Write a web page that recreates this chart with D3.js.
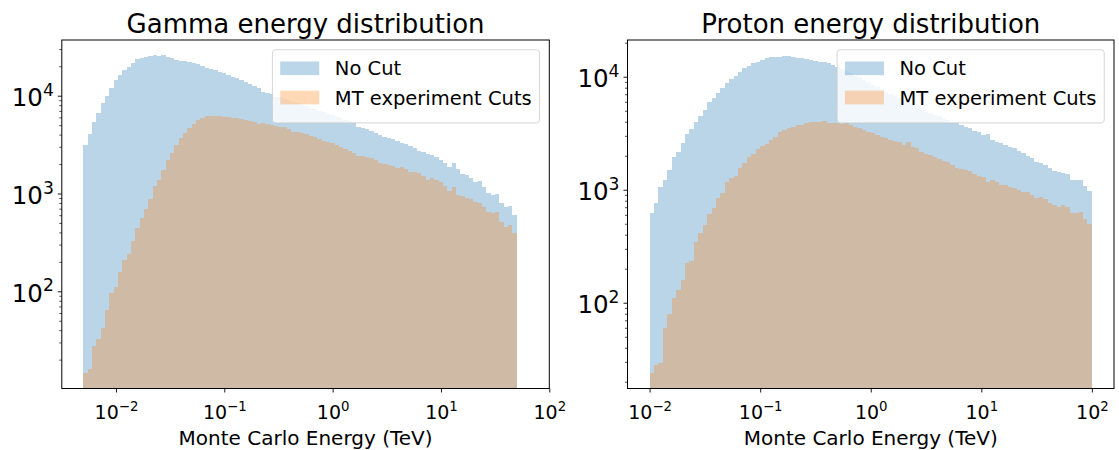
<!DOCTYPE html>
<html><head><meta charset="utf-8">
<script src="https://cdn.jsdelivr.net/npm/d3@7"></script>
<style>
body{margin:0;background:#fff;}
svg text{font-family:"DejaVu Sans",sans-serif;fill:#000;}
</style>
</head><body>
<svg id="chart" width="1119" height="450"></svg>
<script>
// ---------------- data ----------------
const panelTitles = ["Gamma energy distribution", "Proton energy distribution"];
const seriesNames = ["No Cut", "MT experiment Cuts"];
const xLabel = "Monte Carlo Energy (TeV)";
const xTickExps = [-2, -1, 0, 1, 2];
const yTickExps = [2, 3, 4];
// histogram bin-edge ranges (100 log-spaced bins each)
const gammaBinRange = [0.005, 50];
const protonBinRange = [0.01, 100];

const gammaNoCut = [3130,4030,5350,6600,8360,9930,11900,14500,16300,18300,
19800,21700,23700,24500,24900,25500,25900,25500,25900,25100,
24100,23200,22800,22600,21900,21400,20900,20300,19300,18600,
18300,17600,16900,16300,15600,15100,14500,13900,13100,12700,
11900,11000,10600,10300,9800,9600,9150,8950,8550,8350,
7950,7800,7400,7250,6900,6750,6450,6300,6000,5850,
5640,5510,5340,4820,4650,4570,4360,4130,3970,3810,
3660,3580,3470,3310,3180,3060,2940,2720,2640,2520,
2480,2380,2200,2040,1870,2040,1760,1600,1530,1450,
1300,1350,1170,1020,970,990,805,733,745,603];

const gammaCuts = [14.5,16,27.6,32.3,41.9,64.4,95.5,111,158,209,
239,327,447,557,695,879,1186,1375,1740,2200,
2580,3130,3720,4130,4650,5100,5600,5870,6160,6250,
6190,6150,6050,6010,5960,5870,5780,5690,5510,5420,
5170,5220,5100,5010,4900,4820,4750,4570,4290,4230,
4160,4030,3900,3810,3610,3470,3390,3310,3130,3010,
2830,2720,2580,2440,2420,2380,2290,2200,2040,1990,
1960,1930,1840,1870,1780,1670,1640,1610,1520,1370,
1430,1370,1320,1200,1060,1175,967,942,893,871,
824,805,733,652,627,652,515,458,476,397];

const protonNoCut = [618,769,1050,1220,1500,1960,2170,2610,3090,3440,
3950,4490,5070,5930,6510,7120,7880,8730,9470,10190,
11060,12000,12500,13100,13600,14100,14500,14800,15100,15100,
15200,15300,15000,14700,14500,14400,14100,13800,13600,13400,
13200,12700,12300,11800,11200,10800,10200,9850,9300,8950,
8500,8150,7800,7400,7100,6800,6450,6200,5900,5600,
5350,5100,4900,4740,4580,4520,4340,4140,3950,3870,
3740,3610,3490,3300,3220,3050,3090,2750,2660,2570,
2490,2400,2320,2200,2100,2000,1900,1770,1710,1670,
1545,1470,1440,1400,1380,1220,1220,1220,1080,980];

const protonCuts = [23.7,28.1,29.1,60.2,79.1,111,130,159,224,234,
343,411,488,607,685,841,931,1160,1260,1320,
1570,1740,1960,2090,2280,2440,2520,2750,2950,3220,
3370,3490,3610,3740,3740,3870,3950,3950,4000,4060,
3920,3870,3870,3790,3950,3740,3610,3490,3370,3260,
3150,3050,2950,2850,2750,2720,2660,2490,2630,2400,
2360,2170,2060,2030,1960,1870,1800,1750,1650,1570,
1530,1490,1450,1370,1330,1300,1180,1220,1160,1100,
1090,1060,1030,990,960,950,900,840,857,822,
767,732,708,732,698,618,625,638,547,498];

// ---------------- layout ----------------
const colors = ["#1f77b4", "#ff7f0e"];
const panels = [
  {title: panelTitles[0], series: [gammaNoCut, gammaCuts], binRange: gammaBinRange,
   left: 61.8, right: 549.3, xDom: [Math.pow(10,-2.5), 100], yDom: [Math.pow(10,1.006), Math.pow(10,4.5695)]},
  {title: panelTitles[1], series: [protonNoCut, protonCuts], binRange: protonBinRange,
   left: 627.5, right: 1114, xDom: [Math.pow(10,-2.2), Math.pow(10,2.2)], yDom: [Math.pow(10,1.241), Math.pow(10,4.325)]}
];
const plotTop = 40, plotBottom = 388.5;
const svg = d3.select("#chart");

const minus = "\u2212";
function supLabel(sel, exp, fs) {
  sel.text(null);
  sel.append("tspan").text("10");
  sel.append("tspan").attr("font-size", (fs*0.7) + "px").attr("dy", -0.42*fs)
     .text(exp < 0 ? minus + Math.abs(exp) : String(exp));
}

panels.forEach(p => {
  const x = d3.scaleLog().domain(p.xDom).range([p.left, p.right]);
  const y = d3.scaleLog().domain(p.yDom).range([plotBottom, plotTop]);
  const g = svg.append("g");
  const nb = p.series[0].length;
  const lo = Math.log10(p.binRange[0]), hi = Math.log10(p.binRange[1]);
  const edges = d3.range(nb + 1).map(i => Math.pow(10, lo + (hi - lo) * i / nb));

  p.series.forEach((vals, si) => {
    const sg = g.append("g").attr("opacity", 0.3);
    sg.selectAll("rect").data(vals).join("rect")
      .attr("x", (d, i) => Math.round(x(edges[i])))
      .attr("width", (d, i) => Math.round(x(edges[i+1])) - Math.round(x(edges[i])))
      .attr("y", d => y(d))
      .attr("height", d => plotBottom - y(d))
      .attr("fill", colors[si])
      .attr("shape-rendering", "crispEdges");
  });

  // minor y ticks
  const minors = [];
  for (let e = 1; e <= 4; e++) for (let k = 2; k <= 9; k++) {
    const v = k * Math.pow(10, e);
    if (v >= p.yDom[0] && v <= p.yDom[1]) minors.push(v);
  }
  const yMinor = g.append("g").attr("transform", `translate(${p.left},0)`)
    .call(d3.axisLeft(y).tickValues(minors).tickFormat("").tickSize(2.5).tickSizeOuter(0));
  yMinor.select(".domain").remove();
  yMinor.selectAll("line").attr("stroke", "#000").attr("stroke-width", 0.7);

  // major y ticks
  const yfs = 24.5;
  const yAx = g.append("g").attr("transform", `translate(${p.left},0)`)
    .call(d3.axisLeft(y).tickValues(yTickExps.map(e => Math.pow(10, e))).tickSize(4).tickPadding(4).tickSizeOuter(0));
  yAx.select(".domain").remove();
  yAx.selectAll("line").attr("stroke", "#000").attr("stroke-width", 0.9);
  yAx.selectAll("text").attr("font-size", yfs + "px").attr("dy", null)
    .attr("y", 0.4*yfs).attr("fill", "#000")
    .each(function(d) { supLabel(d3.select(this), Math.round(Math.log10(d)), yfs); });

  // x ticks
  const xfs = 19;
  const xAx = g.append("g").attr("transform", `translate(0,${plotBottom})`)
    .call(d3.axisBottom(x).tickValues(xTickExps.map(e => Math.pow(10, e))).tickSize(4).tickPadding(4).tickSizeOuter(0));
  xAx.select(".domain").remove();
  xAx.selectAll("line").attr("stroke", "#000").attr("stroke-width", 0.9);
  xAx.selectAll("text").attr("font-size", xfs + "px").attr("dy", null)
    .attr("y", 30).attr("fill", "#000")
    .each(function(d) { supLabel(d3.select(this), Math.round(Math.log10(d)), xfs); });

  // spines
  g.append("rect").attr("x", p.left).attr("y", plotTop)
    .attr("width", p.right - p.left).attr("height", plotBottom - plotTop)
    .attr("fill", "none").attr("stroke", "#000").attr("stroke-width", 1);

  // title
  g.append("text").attr("x", (p.left + p.right) / 2).attr("y", plotTop - 7.5)
    .attr("text-anchor", "middle").attr("font-size", "26px").text(p.title);

  // x label
  g.append("text").attr("x", (p.left + p.right) / 2).attr("y", 444.5)
    .attr("text-anchor", "middle").attr("font-size", "20px").text(xLabel);

  // legend
  const lfs = 19.5;
  const lg = g.append("g");
  const box = lg.append("rect");
  const texts = seriesNames.map((n, i) => lg.append("text").attr("font-size", lfs + "px")
    .attr("y", 0).text(n));
  const tw = d3.max(texts, t => t.node().getComputedTextLength());
  const pad = 0.4*lfs, hl = 2*lfs, htp = 0.8*lfs, rowH = 1.5*lfs;
  const w = pad + hl + htp + tw + pad;
  const h = pad*2 + rowH*2 - 0.05*lfs;
  const lx = p.right - 0.5*lfs - w, ly = plotTop + 0.5*lfs;
  box.attr("x", lx).attr("y", ly).attr("width", w).attr("height", h)
    .attr("rx", 3).attr("fill", "#fff").attr("fill-opacity", 0.8)
    .attr("stroke", "#ccc").attr("stroke-opacity", 0.8).attr("stroke-width", 1);
  seriesNames.forEach((n, i) => {
    const cy = ly + pad + rowH * i + 0.5*lfs + 1;
    lg.append("rect").attr("x", lx + pad).attr("y", cy - 0.35*lfs)
      .attr("width", hl).attr("height", 0.7*lfs)
      .attr("fill", colors[i]).attr("fill-opacity", 0.3);
    texts[i].attr("x", lx + pad + hl + htp).attr("y", cy + 0.36*lfs);
  });
});
</script>
</body></html>
